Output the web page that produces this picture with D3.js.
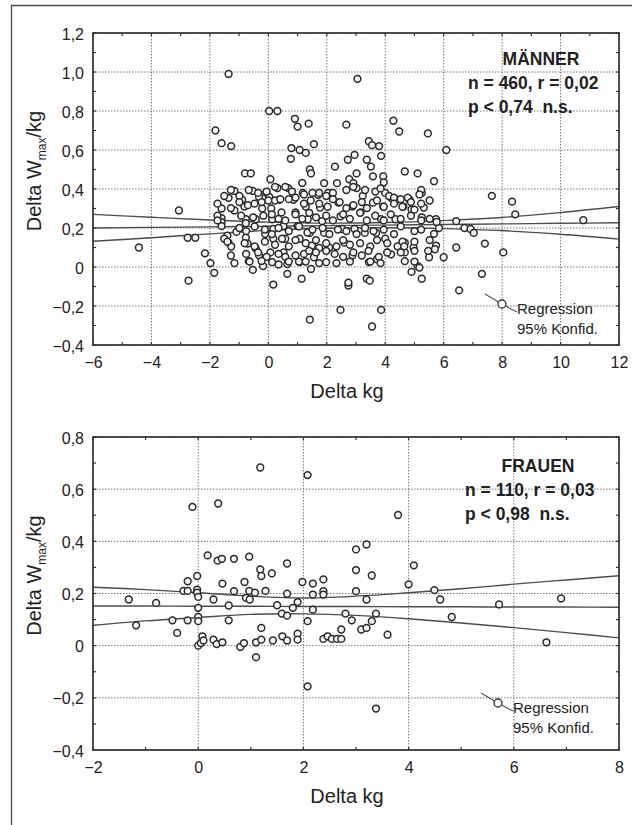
<html>
<head>
<meta charset="utf-8">
<style>
  body { margin: 0; background: #fff; }
  svg text { font-family: "Liberation Sans", Arial, sans-serif; fill: #222; }
</style>
</head>
<body>
<svg id="chart" width="632" height="825"></svg>

<script src="https://d3js.org/d3.v7.min.js"></script>
<script>
// ---- data ----
var menXTicks = [-6, -4, -2, 0, 2, 4, 6, 8, 10, 12];
var menYTicks = [-0.4, -0.2, 0, 0.2, 0.4, 0.6, 0.8, 1.0, 1.2];
var womenXTicks = [-2, 0, 2, 4, 6, 8];
var womenYTicks = [-0.4, -0.2, 0, 0.2, 0.4, 0.6, 0.8];

var menText = ["MÄNNER", "n = 460, r = 0,02", "p < 0,74  n.s."];
var womenText = ["FRAUEN", "n = 110, r = 0,03", "p < 0,98  n.s."];
var legendText = ["Regression", "95% Konfid."];

// regression line and 95% band, read at a few x positions
var menCurveX = [-6, -4, -2, 0, 2, 4, 6, 8, 10, 12];
var menFit   = [0.200, 0.203, 0.206, 0.209, 0.212, 0.215, 0.218, 0.221, 0.224, 0.227];
var menUpper = [0.270, 0.255, 0.241, 0.230, 0.225, 0.228, 0.238, 0.254, 0.279, 0.310];
var menLower = [0.132, 0.150, 0.170, 0.188, 0.199, 0.201, 0.197, 0.187, 0.168, 0.143];

var womenCurveX = [-2, -1, 0, 1, 2, 3, 4, 5, 6, 7, 8];
var womenFit   = [0.152, 0.152, 0.151, 0.151, 0.150, 0.150, 0.149, 0.149, 0.148, 0.148, 0.147];
var womenUpper = [0.224, 0.215, 0.203, 0.190, 0.183, 0.190, 0.203, 0.218, 0.236, 0.252, 0.268];
var womenLower = [0.078, 0.095, 0.108, 0.120, 0.122, 0.116, 0.103, 0.087, 0.069, 0.050, 0.030];

var menPoints = [
  [-4.43,0.10],[-3.06,0.29],[-2.73,-0.07],[-2.76,0.15],[-2.5,0.15],[-2.17,0.07],[-1.85,-0.03],[-1.81,0.70],
  [-1.6,0.30],[-1.6,0.635],[-1.6,0.25],[-1.6,0.23],[-1.6,0.21],[-1.36,0.99],[-1.27,0.62],[-1.36,0.355],
  [-1.16,0.39],[-1.16,0.29],[-1.16,0.02],[-1.36,0.125],[-1.27,0.105],[-1.09,0.18],[-0.9,0.345],[-0.8,0.48],
  [-0.6,0.48],[-0.82,0.31],[-0.77,0.245],[-0.77,0.225],[-0.77,0.15],[-0.71,0.12],[-0.67,0.03],[-0.53,0.39],
  [-0.53,-0.015],[-0.43,0.095],[-0.43,0.245],[-0.32,0.06],[-0.32,0.36],[-0.21,0.30],[-0.18,0.005],[-0.11,0.17],
  [-0.07,0.38],[0.03,0.80],[0.31,0.80],[0.07,0.45],[0.03,0.36],[0.1,0.30],[0.13,0.245],[0.17,0.195],
  [0.17,0.145],[0.07,0.075],[0.13,0.025],[0.17,-0.09],[0.31,0.405],[0.38,0.345],[0.45,0.28],[0.52,0.21],
  [0.58,0.145],[0.52,0.075],[0.65,0.015],[0.65,-0.035],[0.68,0.405],[0.77,0.555],[0.79,0.61],[0.91,0.76],
  [1.0,0.72],[1.07,0.60],[1.28,0.585],[1.14,-0.06],[1.38,0.735],[1.42,0.50],[1.46,0.48],[1.56,0.63],
  [1.42,-0.27],[1.46,-0.01],[1.18,0.38],[0.86,0.345],[0.93,0.28],[1.0,0.21],[1.07,0.145],[1.07,0.025],
  [1.28,0.31],[1.35,0.245],[1.42,0.175],[1.49,0.11],[1.56,0.05],[1.7,0.37],[1.77,0.305],[1.84,0.235],
  [1.91,0.175],[1.91,0.43],[2.05,0.38],[2.08,0.10],[1.98,0.025],[2.28,0.515],[2.35,0.43],[2.4,0.33],
  [2.47,0.26],[2.53,0.195],[2.6,0.125],[2.47,-0.22],[2.67,0.73],[2.72,0.55],[2.77,0.45],[2.74,-0.095],
  [2.74,-0.08],[2.95,0.575],[3.02,0.48],[3.02,0.405],[3.05,0.965],[2.88,0.31],[2.95,0.195],[2.88,0.06],
  [3.16,0.28],[3.23,0.365],[3.3,0.175],[3.37,-0.06],[3.47,-0.07],[3.44,0.645],[3.55,0.625],[3.79,0.62],
  [3.37,0.55],[3.51,0.515],[3.58,0.465],[3.86,0.57],[3.55,-0.305],[3.86,-0.22],[3.93,0.465],[4.0,0.38],
  [3.93,0.31],[3.86,0.245],[4.0,0.145],[4.07,0.075],[4.2,0.065],[3.72,0.04],[3.44,0.025],[3.58,0.33],
  [3.69,0.175],[4.2,0.355],[4.28,0.75],[4.48,0.695],[4.41,0.345],[4.35,0.245],[4.67,0.49],[4.62,0.31],
  [4.67,0.125],[4.67,0.075],[4.67,0.03],[4.83,0.345],[4.9,0.295],[4.9,-0.025],[4.97,0.10],[5.11,0.48],
  [5.11,0.005],[5.25,-0.06],[5.25,0.38],[5.32,0.305],[5.25,0.255],[5.46,0.685],[5.5,0.05],[5.67,0.44],
  [5.67,0.17],[5.74,0.11],[5.74,0.245],[5.84,0.20],[6.0,0.05],[6.09,0.60],[6.43,0.235],[6.43,0.10],
  [6.53,-0.12],[6.71,0.20],[6.92,0.195],[7.03,0.175],[7.31,-0.035],[7.41,0.12],[7.65,0.365],[8.04,0.075],
  [8.34,0.335],[8.45,0.27],[10.78,0.24],
  // dense cloud
  [2.91,0.43],[3.95,0.434],
  [-1.28,0.395],[-1.51,0.364],[-0.67,0.395],[-0.35,0.38],[-0.06,0.387],[0.23,0.411],[0.58,0.411],[0.81,0.387],
  [1.16,0.431],[1.22,0.372],[1.51,0.38],[1.74,0.38],[1.98,0.364],[2.21,0.38],[2.67,0.395],[2.91,0.411],
  [3.31,0.395],[3.66,0.387],[3.84,0.403],[4.13,0.364],[4.3,0.356],[4.53,0.348],[4.77,0.356],[5.23,0.395],
  [5.17,0.372],[5.52,0.341],
  [-1.74,0.325],[-1.28,0.302],[-0.99,0.364],[-0.99,0.333],[-0.7,0.317],[-0.47,0.325],[-0.23,0.333],[0,0.341],
  [0.23,0.341],[0.41,0.348],[0.7,0.348],[0.93,0.356],[1.22,0.325],[1.45,0.341],[1.74,0.325],[2.03,0.309],
  [2.21,0.348],[2.44,0.333],[2.67,0.302],[2.91,0.317],[3.2,0.333],[3.37,0.302],[3.72,0.341],[3.95,0.309],
  [4.3,0.325],[4.59,0.309],[4.88,0.333],[5.0,0.294],[5.23,0.325],
  [-1.74,0.263],[-1.74,0.239],[-0.93,0.263],[-0.52,0.255],[-0.17,0.263],[0.12,0.27],[0.35,0.247],[0.58,0.239],
  [0.93,0.27],[1.16,0.247],[1.4,0.278],[1.63,0.255],[1.98,0.263],[2.21,0.239],[2.56,0.27],[2.79,0.247],
  [3.14,0.278],[3.37,0.239],[3.66,0.263],[3.95,0.239],[4.19,0.27],[4.53,0.247],[4.88,0.263],[5.23,0.239],
  [5.52,0.247],[5.76,0.231],
  [-1.4,0.161],[-0.99,0.2],[-0.76,0.184],[-0.47,0.208],[-0.12,0.192],[0.12,0.169],[0.35,0.2],[0.7,0.184],
  [1.05,0.208],[1.34,0.177],[1.51,0.192],[1.86,0.2],[2.09,0.169],[2.38,0.192],[2.67,0.184],[3.02,0.169],
  [3.31,0.2],[3.6,0.184],[3.95,0.192],[4.3,0.169],[4.53,0.208],[5.0,0.184],[5.23,0.192],
  [-1.51,0.145],[-1.4,0.13],[-0.81,0.122],[-0.47,0.106],[-0.12,0.13],[0.23,0.114],[0.47,0.145],[0.7,0.106],
  [0.93,0.138],[1.28,0.122],[1.63,0.138],[1.74,0.098],[1.98,0.122],[2.33,0.106],[2.56,0.138],[2.79,0.114],
  [3.14,0.122],[3.49,0.106],[3.72,0.138],[4.07,0.122],[4.42,0.106],[4.59,0.13],[5.0,0.13],[5.52,0.138],[5.7,0.091],
  [-1.28,0.059],[-0.76,0.067],[-0.35,0.075],[-0.06,0.052],[0.35,0.067],[0.58,0.052],[0.93,0.059],[1.22,0.067],
  [1.4,0.083],[1.63,0.075],[1.98,0.083],[2.27,0.067],[2.56,0.052],[2.91,0.075],[3.2,0.059],[3.43,0.083],
  [3.78,0.052],[4.07,0.075],[4.53,0.075],[4.65,0.106],[5.0,0.083],[5.47,0.083],
  [-1.98,0.02],[-0.64,0.028],[-0.23,0.031],[0.35,0.013],[0.7,0.028],[1.05,0.028],[1.28,0.028],[1.74,0.02],
  [2.33,0.02],[2.79,0.028],[3.49,0.028],[3.84,0.02],[5.0,0.028],[5.17,-0.003]
];

var womenPoints = [
  [-1.32,0.177],[-1.18,0.078],[-0.8,0.164],[-0.49,0.097],[-0.4,0.049],[-0.28,0.21],[-0.2,0.247],[-0.2,0.21],
  [-0.2,0.097],[-0.11,0.532],[-0.02,0.267],[-0.02,0.215],[-0.02,0.203],[0,0.187],[0,0.145],[0,0.11],
  [0,0.094],[0,0.0],[0.05,0.01],[0.08,0.036],[0.1,0.02],[0.18,0.346],[0.29,0.177],[0.29,0.023],
  [0.35,0.006],[0.37,0.326],[0.38,0.545],[0.45,0.333],[0.46,0.238],[0.46,0.013],[0.58,0.154],[0.58,0.097],
  [0.68,0.333],[0.68,0.209],[0.8,-0.005],[0.87,0.01],[0.88,0.244],[0.91,0.183],[0.97,0.341],[0.97,0.21],
  [0.98,0.177],[1.08,0.203],[1.1,0.013],[1.1,-0.044],[1.18,0.683],[1.18,0.292],[1.2,0.267],[1.2,0.068],
  [1.2,0.023],[1.28,0.21],[1.4,0.277],[1.42,0.02],[1.5,0.155],[1.59,0.123],[1.6,0.036],[1.69,0.315],
  [1.69,0.199],[1.69,0.115],[1.69,0.02],[1.8,0.145],[1.89,0.167],[1.89,0.046],[1.89,0.023],[1.98,0.244],
  [2.08,0.654],[2.08,0.094],[2.08,-0.156],[2.18,0.238],[2.18,0.196],[2.18,0.138],[2.38,0.254],[2.38,0.209],
  [2.38,0.196],[2.38,0.026],[2.46,0.036],[2.54,0.026],[2.64,0.026],[2.72,0.062],[2.72,0.026],[2.8,0.123],
  [2.92,0.097],[3.0,0.369],[3.0,0.29],[3.0,0.209],[3.1,0.062],[3.2,0.388],[3.2,0.177],[3.2,0.068],
  [3.3,0.269],[3.3,0.094],[3.38,0.123],[3.38,-0.241],[3.6,0.042],[3.8,0.501],[4.0,0.235],[4.1,0.308],
  [4.49,0.213],[4.6,0.177],[4.82,0.11],[5.72,0.158],[6.62,0.013],[6.9,0.181]
];

var fmtY = function(d) { return d === 0 ? "0" : d3.format(".1f")(d).replace(".", ","); };
var fmtX = d3.format("d");

var svg = d3.select("#chart");

// page frame (left and top edges visible in the picture)
svg.append("path")
  .attr("d", "M11.5,825V5.5H632")
  .attr("fill", "none")
  .attr("stroke", "#4a4a4a")
  .attr("stroke-width", 1.3);

function drawPanel(p) {
  var x = d3.scaleLinear().domain(p.xDomain).range([0, p.width]);
  var y = d3.scaleLinear().domain(p.yDomain).range([p.height, 0]);
  var g = svg.append("g").attr("transform", "translate(" + p.left + "," + p.top + ")");

  g.append("rect").attr("width", p.width).attr("height", p.height).attr("fill", "#fff");

  // dotted grid
  g.append("g").selectAll("line").data(p.xTicks).join("line")
    .attr("x1", d => x(d)).attr("x2", d => x(d)).attr("y1", 0).attr("y2", p.height)
    .attr("stroke", "#7a7a7a").attr("stroke-width", 1).attr("stroke-dasharray", "1.5,1.5");
  g.append("g").selectAll("line").data(p.yTicks).join("line")
    .attr("x1", 0).attr("x2", p.width).attr("y1", d => y(d)).attr("y2", d => y(d))
    .attr("stroke", "#7a7a7a").attr("stroke-width", 1).attr("stroke-dasharray", "1.5,1.5");

  // small inward ticks on all four sides
  var xMinor = d3.range(p.xDomain[0], p.xDomain[1] + 0.001, 1);
  var yMinor = d3.range(p.yDomain[0], p.yDomain[1] + 0.001, 0.1);
  var t = g.append("g").attr("stroke", "#333").attr("stroke-width", 1.2);
  t.selectAll(".tb").data(xMinor).join("line").attr("class", "tb")
    .attr("x1", d => x(d)).attr("x2", d => x(d)).attr("y1", p.height).attr("y2", p.height - 3);
  t.selectAll(".tt").data(xMinor).join("line").attr("class", "tt")
    .attr("x1", d => x(d)).attr("x2", d => x(d)).attr("y1", 0).attr("y2", 3);
  t.selectAll(".tl").data(yMinor).join("line").attr("class", "tl")
    .attr("x1", 0).attr("x2", 3).attr("y1", d => y(d)).attr("y2", d => y(d));
  t.selectAll(".tr").data(yMinor).join("line").attr("class", "tr")
    .attr("x1", p.width).attr("x2", p.width - 3).attr("y1", d => y(d)).attr("y2", d => y(d));

  // axis labels
  var ya = g.append("g").call(d3.axisLeft(y).tickValues(p.yTicks).tickFormat(fmtY).tickSize(0).tickPadding(9));
  var xa = g.append("g").attr("transform", "translate(0," + p.height + ")")
    .call(d3.axisBottom(x).tickValues(p.xTicks).tickFormat(fmtX).tickSize(0).tickPadding(12));
  [ya, xa].forEach(function(a) {
    a.select(".domain").remove();
    a.selectAll("text").attr("font-size", 16).attr("fill", "#222")
      .attr("font-family", "Liberation Sans, Arial, sans-serif");
  });
  ya.selectAll("text").attr("dy", "0.38em");

  // clip region
  var clipId = "clip" + p.name;
  g.append("clipPath").attr("id", clipId).append("rect").attr("width", p.width).attr("height", p.height);

  // regression + band
  var line = d3.line().x(d => x(d[0])).y(d => y(d[1])).curve(d3.curveCatmullRom);
  var lines = g.append("g").attr("clip-path", "url(#" + clipId + ")");
  [p.fit, p.upper, p.lower].forEach(function(vals) {
    lines.append("path")
      .datum(p.curveX.map((cx, i) => [cx, vals[i]]))
      .attr("d", line)
      .attr("fill", "none").attr("stroke", "#4d4d4d").attr("stroke-width", 1.4);
  });

  // points
  g.append("g").attr("clip-path", "url(#" + clipId + ")")
    .selectAll("circle").data(p.points).join("circle")
    .attr("cx", d => x(d[0])).attr("cy", d => y(d[1])).attr("r", 3.4)
    .attr("fill", "#f6f6f6").attr("stroke", "#2a2a2a").attr("stroke-width", 1.5);

  // frame
  g.append("rect").attr("width", p.width).attr("height", p.height)
    .attr("fill", "none").attr("stroke", "#333").attr("stroke-width", 1.7);

  // annotation
  var ann = g.append("g").attr("font-size", 17.5).attr("font-weight", "bold");
  ann.append("text").attr("x", p.annX + 73).attr("y", p.annY).attr("text-anchor", "middle").text(p.text[0]);
  ann.append("text").attr("x", p.annX).attr("y", p.annY + 24).style("white-space", "pre").text(p.text[1]);
  ann.append("text").attr("x", p.annX).attr("y", p.annY + 48).style("white-space", "pre").text(p.text[2]);

  // legend key
  var lg = g.append("g").attr("transform", "translate(" + p.legX + "," + p.legY + ")");
  lg.append("line").attr("x1", -17).attr("y1", -10).attr("x2", -3.5).attr("y2", -2)
    .attr("stroke", "#555").attr("stroke-width", 1.2);
  lg.append("line").attr("x1", 3.5).attr("y1", 2).attr("x2", 15).attr("y2", 8)
    .attr("stroke", "#555").attr("stroke-width", 1.2);
  lg.append("circle").attr("r", 4).attr("fill", "#fff").attr("stroke", "#333").attr("stroke-width", 1.3);
  lg.append("text").attr("x", 15).attr("y", 10).attr("font-size", 15).text(legendText[0]);
  lg.append("text").attr("x", 15).attr("y", 30).attr("font-size", 15).text(legendText[1]);

  // axis titles
  svg.append("text")
    .attr("x", p.left + p.width / 2 - 9).attr("y", p.top + p.height + 53)
    .attr("text-anchor", "middle").attr("font-size", 20).text("Delta kg");
  var yt = svg.append("text")
    .attr("transform", "translate(41," + (p.top + p.height / 2 - 18) + ") rotate(-90)")
    .attr("text-anchor", "middle").attr("font-size", 20);
  yt.append("tspan").text("Delta W");
  yt.append("tspan").attr("font-size", 12).attr("dy", 5).text("max");
  yt.append("tspan").attr("dy", -5).text("/kg");
}

drawPanel({
  name: "men", left: 93, top: 33, width: 526, height: 312,
  xDomain: [-6, 12], yDomain: [-0.4, 1.2], xTicks: menXTicks, yTicks: menYTicks,
  points: menPoints, curveX: menCurveX, fit: menFit, upper: menUpper, lower: menLower,
  text: menText, annX: 375, annY: 32, legX: 409, legY: 271
});

drawPanel({
  name: "women", left: 93, top: 437, width: 526, height: 313,
  xDomain: [-2, 8], yDomain: [-0.4, 0.8], xTicks: womenXTicks, yTicks: womenYTicks,
  points: womenPoints, curveX: womenCurveX, fit: womenFit, upper: womenUpper, lower: womenLower,
  text: womenText, annX: 372, annY: 35, legX: 405, legY: 266
});
</script>
</body>
</html>
